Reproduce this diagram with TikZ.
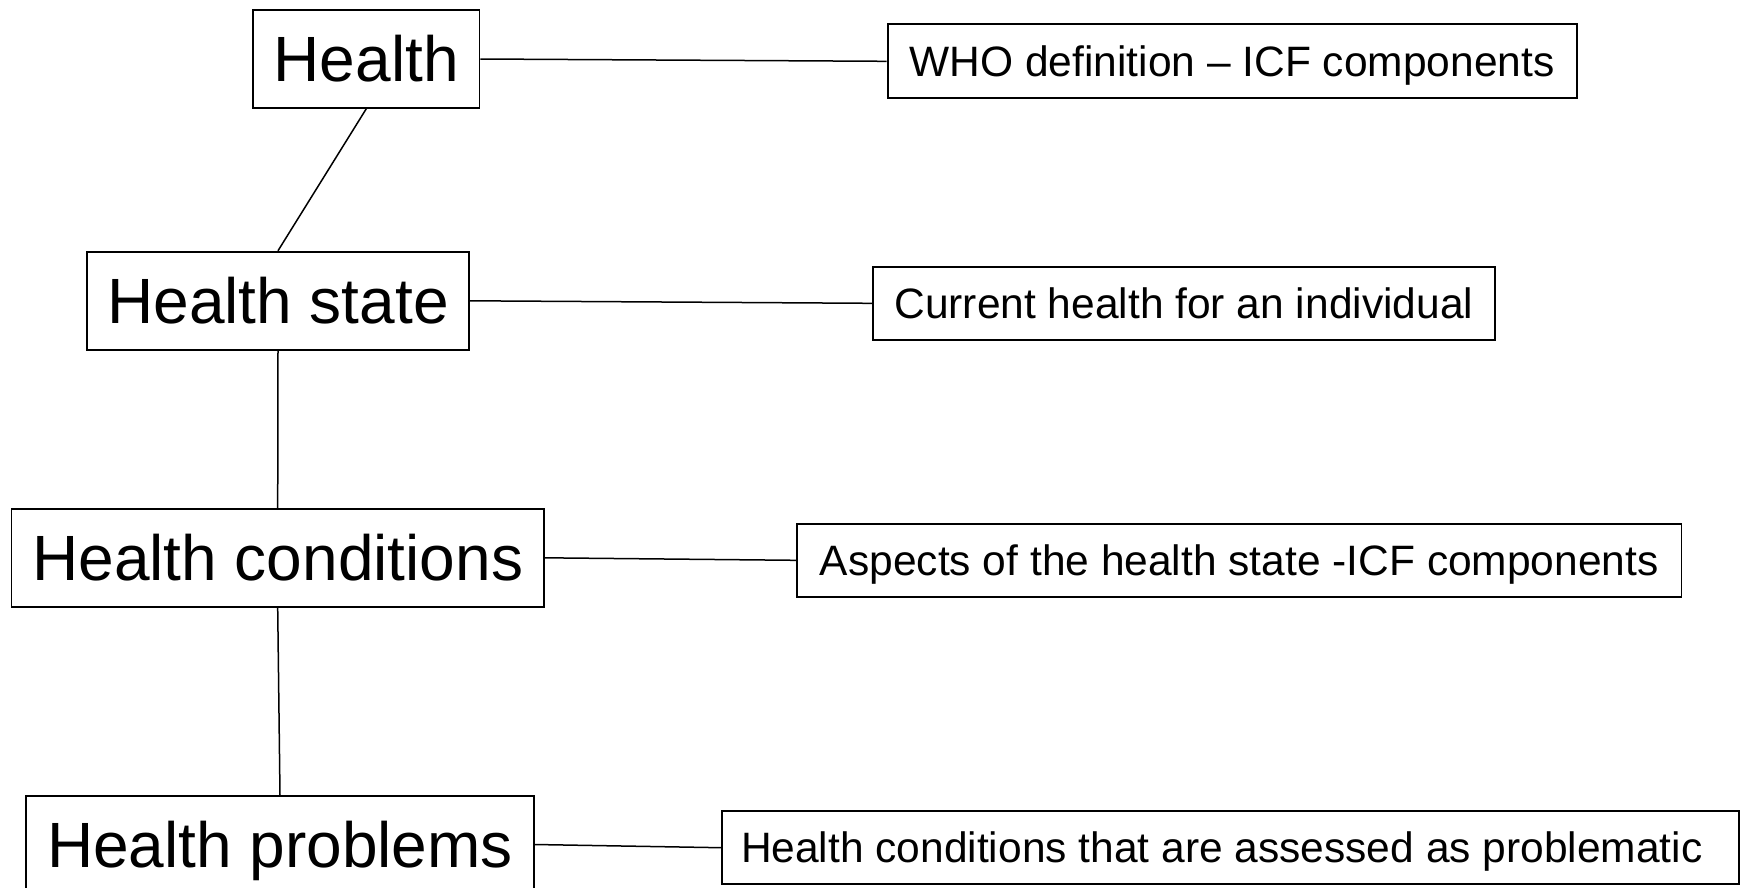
\documentclass[tikz,border=0pt]{standalone}
\usepackage{fontspec}
\setmainfont{Liberation Sans}
\begin{document}
\begin{tikzpicture}[x=1pt,y=-1pt,
  term/.style={draw=black, line width=1.8pt, fill=white, inner sep=0pt,
    font=\fontsize{64}{70}\selectfont, text height=45.5pt, text depth=0pt},
  note/.style={draw=black, line width=1.8pt, fill=white, inner sep=0pt,
    font=\fontsize{42.5}{48}\selectfont, text height=30.2pt, text depth=0pt},
  link/.style={draw=black, line width=1.5pt}]
  % page area
  \fill[white] (0,0) rectangle (1744,887);
  \useasboundingbox (0,0) rectangle (1744,887);

  % hierarchy of terms on the left
  \node[term, minimum width=226.7pt, minimum height=98pt]   (health) at (366.2,59)    {Health};
  \node[term, minimum width=382.5pt, minimum height=98.3pt] (hstate) at (278,300.8)   {Health state};
  \node[term, minimum width=532.3pt, minimum height=97.7pt] (hcond)  at (277.7,557.8) {Health conditions};
  \node[term, minimum width=508pt,   minimum height=97pt]   (hprob)  at (280,844.5)   {Health problems};

  % explanations on the right
  \node[note, minimum width=689pt,   minimum height=74pt]   (who)  at (1232.1,61.3)  {WHO definition – ICF components};
  \node[note, minimum width=622pt,   minimum height=73.3pt] (curr) at (1183.8,303.3) {Current health for an individual};
  \node[note, minimum width=884.2pt, minimum height=73.3pt] (asp)  at (1239.3,560.3) {Aspects of the health state -ICF components};
  \node[note, minimum height=73.3pt, inner xsep=19pt, text width=978.6pt, align=flush left]
    (prob) at (1230.3,847.7) {Health conditions that are assessed as problematic};

  % vertical chain
  \draw[link] (health.south) -- (hstate.north);
  \draw[link] (hstate.south) -- (hcond.north);
  \draw[link] (hcond.south) -- (hprob.north);

  % term to explanation
  \draw[link] (health.east) -- (who.west);
  \draw[link] (hstate.east) -- (curr.west);
  \draw[link] (hcond.east) -- (asp.west);
  \draw[link] (hprob.east) -- (prob.west);
\end{tikzpicture}
\end{document}
